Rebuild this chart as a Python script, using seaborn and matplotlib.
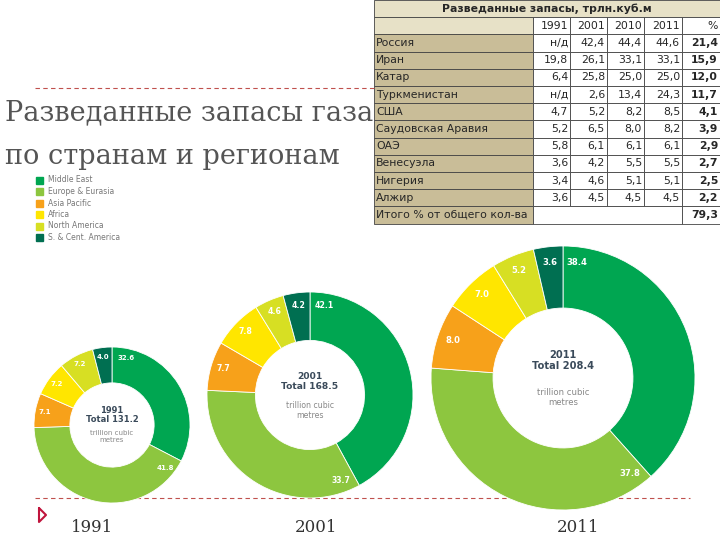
import matplotlib
matplotlib.use("Agg")
import matplotlib.pyplot as plt
import seaborn as sns
import numpy as np
from matplotlib.patches import Rectangle

sns.set_theme(style="white")
plt.rcParams['font.family'] = ['DejaVu Sans']

regions = ["Middle East", "Europe & Eurasia", "Asia Pacific", "Africa", "North America", "S. & Cent. America"]
colors = ["#00a651", "#8dc63f", "#f7a11a", "#ffe600", "#d7df23", "#006f51"]
share_1991 = [32.6, 41.8, 7.1, 7.2, 7.2, 4.0]
share_2001 = [42.1, 33.7, 7.7, 7.8, 4.6, 4.2]
share_2011 = [38.4, 37.8, 8.0, 7.0, 5.2, 3.6]
totals = ["131.2", "168.5", "208.4"]
years = ["1991", "2001", "2011"]

tbl_cols = ["1991", "2001", "2010", "2011", "%"]
countries = ["Россия", "Иран", "Катар", "Туркменистан", "США", "Саудовская Аравия",
             "ОАЭ", "Венесуэла", "Нигерия", "Алжир"]
v1991 = ["н/д", "19,8", "6,4", "н/д", "4,7", "5,2", "5,8", "3,6", "3,4", "3,6"]
v2001 = ["42,4", "26,1", "25,8", "2,6", "5,2", "6,5", "6,1", "4,2", "4,6", "4,5"]
v2010 = ["44,4", "33,1", "25,0", "13,4", "8,2", "8,0", "6,1", "5,5", "5,1", "4,5"]
v2011 = ["44,6", "33,1", "25,0", "24,3", "8,5", "8,2", "6,1", "5,5", "5,1", "4,5"]
vpct = ["21,4", "15,9", "12,0", "11,7", "4,1", "3,9", "2,9", "2,7", "2,5", "2,2"]
total_pct = "79,3"

W, H = 720, 540
fig = plt.figure(figsize=(7.2, 5.4), dpi=100)
bg = fig.add_axes([0, 0, 1, 1])
bg.set_xlim(0, W); bg.set_ylim(H, 0); bg.axis("off")

# title
bg.text(5, 113, "Разведанные запасы газа", family="DejaVu Serif", fontsize=19.5, color="#555555", va="center")
bg.text(5, 157, "по странам и регионам", family="DejaVu Serif", fontsize=19.5, color="#555555", va="center")
bg.plot([35, 375], [88, 88], ls=(0, (4, 3)), color="#c0504d", lw=0.8)
bg.plot([35, 690], [498, 498], ls=(0, (4, 3)), color="#c0504d", lw=0.8)
bg.plot([39, 39, 46, 39], [508, 522, 515, 508], color="#c0143c", lw=1.5)

# legend
for i, (r, c) in enumerate(zip(regions, colors)):
    y = 180 + i * 11.5
    bg.add_patch(Rectangle((36, y - 3.5), 7, 7, color=c))
    bg.text(48, y, r, fontsize=5.5, color="#777777", va="center")

# year labels
for x, y in zip([92, 316, 578], years):
    bg.text(x, 527, y, family="DejaVu Serif", fontsize=12, color="#333333", ha="center", va="center")

# donuts
specs = [(112, 425, 78, 0.46, share_1991), (310, 395, 103, 0.47, share_2001), (563, 378, 132, 0.47, share_2011)]
for (cx, cy, r, w, vals), tot, yr in zip(specs, totals, years):
    ax = fig.add_axes([(cx - r) / W, 1 - (cy + r) / H, 2 * r / W, 2 * r / H])
    ax.pie(vals, colors=colors, startangle=90, counterclock=False,
           wedgeprops=dict(width=w, edgecolor="white", linewidth=0.6))
    ax.set_aspect("equal")
    ax.set_xlim(-1, 1); ax.set_ylim(-1, 1)
    fs = 3.5 + r / 50
    ang0 = 90
    for v in vals:
        if v > 20:
            a = np.deg2rad(ang0 - 900 / r)
        else:
            a = np.deg2rad(ang0 - v * 1.8)
        ax.text(0.88 * np.cos(a), 0.88 * np.sin(a), f"{v:.1f}", fontsize=fs, color="white",
                fontweight="bold", ha="center", va="center")
        ang0 -= v * 3.6
    ax.text(0, 0.13, f"{yr}\nTotal {tot}", fontsize=fs + 1, fontweight="bold", color="#3a4a5a",
            ha="center", va="center", linespacing=1.1)
    ax.text(0, -0.15, "trillion cubic\nmetres", fontsize=fs, color="#888888",
            ha="center", va="center", linespacing=1.2)

# table
x0, x1 = 374, 720
cx = [374, 533, 570, 607, 644, 682, 720]
rh = 17.2
tan_dark = "#c9bd98"; tan_light = "#e7e1c7"
fsz = 7.8
def cell(xa, yy, wd, fc):
    bg.add_patch(Rectangle((xa, yy), wd, rh, facecolor=fc, edgecolor="#444444", lw=0.6))

cell(x0, 0, x1 - x0, tan_light)
bg.text((x0 + x1) / 2, rh / 2, "Разведанные запасы, трлн.куб.м", fontsize=fsz, fontweight="bold",
        ha="center", va="center")
cell(x0, rh, cx[1] - x0, tan_light)
for j, c in enumerate(tbl_cols):
    xa, xb = cx[j + 1], cx[j + 2]
    cell(xa, rh, xb - xa, "white")
    bg.text(xb - 2, rh * 1.5, c, fontsize=fsz, ha="right", va="center")
rows = list(zip(countries, v1991, v2001, v2010, v2011, vpct))
for i, row in enumerate(rows):
    yy = rh * (i + 2)
    cell(x0, yy, cx[1] - x0, tan_dark)
    bg.text(x0 + 2, yy + rh / 2, row[0], fontsize=fsz, va="center")
    for j, val in enumerate(row[1:]):
        xa, xb = cx[j + 1], cx[j + 2]
        cell(xa, yy, xb - xa, "white")
        bg.text(xb - 2, yy + rh / 2, val, fontsize=fsz, ha="right", va="center",
                fontweight="bold" if j == 4 else "normal")
yy = rh * 12
cell(x0, yy, cx[1] - x0, tan_dark)
bg.text(x0 + 2, yy + rh / 2, "Итого % от общего кол-ва", fontsize=fsz, va="center")
cell(cx[1], yy, cx[5] - cx[1], "white")
cell(cx[5], yy, 720 - cx[5], "white")
bg.text(718, yy + rh / 2, total_pct, fontsize=fsz, ha="right", va="center", fontweight="bold")

fig.savefig("out.png", dpi=100)
